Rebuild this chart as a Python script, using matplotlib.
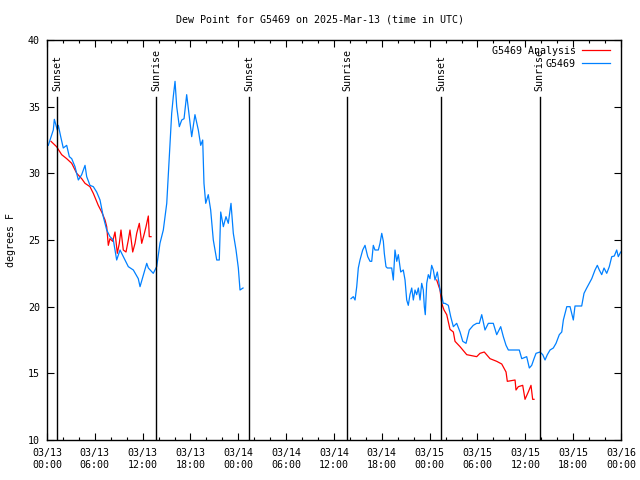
import matplotlib
matplotlib.use('Agg')
import matplotlib.pyplot as plt
import matplotlib.dates as mdates
import numpy as np
import pandas as pd

start = pd.Timestamp('2025-03-13 00:00')
end = pd.Timestamp('2025-03-16 00:00')

# hours after 03/13 00:00 UTC, dew point in F
obs_hours_1 = [0.16, 0.79, 0.92, 1.29, 1.42, 1.72, 2.04, 2.47, 2.80, 3.10, 3.51, 3.93, 4.35, 4.77,
               4.98, 5.39, 5.81, 6.23, 6.65, 7.06, 7.49, 7.90, 8.32, 8.74, 9.16, 9.78, 10.20, 10.83,
               11.45, 11.67, 12.51, 12.71, 13.33, 13.76, 14.17, 14.59, 15.02, 15.43, 15.64, 15.84,
               16.06, 16.27, 16.60, 16.90, 17.19, 17.52, 17.85, 18.15, 18.56, 18.98, 19.28, 19.53,
               19.69, 19.91, 20.23, 20.53, 20.86, 21.29, 21.61, 21.79, 22.12, 22.45, 22.74, 23.08,
               23.37, 23.71, 24.00, 24.21, 24.59]
obs_vals_1 = [32.1, 33.25, 34.05, 33.25, 33.6, 32.75, 31.9, 32.1, 31.25, 31.1, 30.5, 29.5, 29.9, 30.6,
              29.75, 29.1, 29.0, 28.6, 28.0, 26.75, 25.75, 25.25, 25.0, 23.5, 24.25, 23.5, 23.0, 22.75,
              22.1, 21.5, 23.25, 22.9, 22.5, 23.0, 24.75, 25.75, 27.75, 32.25, 34.5, 35.75,
              36.9, 35.0, 33.5, 34.0, 34.1, 35.9, 34.25, 32.75, 34.4, 33.25, 32.1, 32.5,
              29.25, 27.75, 28.4, 27.25, 25.0, 23.5, 23.5, 27.1, 26.0, 26.75, 26.25, 27.75,
              25.5, 24.25, 22.9, 21.25, 21.4]

obs_hours_2 = [38.13, 38.42, 38.64, 38.85, 39.05, 39.26, 39.60, 39.89, 40.23, 40.52, 40.73, 40.93,
               41.14, 41.56, 41.77, 41.99, 42.19, 42.31, 42.52, 42.69, 43.24, 43.44, 43.65, 43.87,
               44.07, 44.37, 44.69, 44.91, 45.12, 45.32, 45.53, 45.75, 45.95, 46.16, 46.37, 46.58,
               46.79, 47.00, 47.20, 47.33, 47.45, 47.63, 47.83, 48.04, 48.25, 48.46, 48.67, 48.96,
               49.17, 49.30, 49.51, 49.71, 49.92, 50.34, 50.64, 50.97, 51.39, 51.81, 52.15, 52.56,
               52.97, 53.47, 53.90, 54.23, 54.53, 54.94, 55.36, 55.98, 56.41, 56.91, 57.24, 57.58,
               57.87, 59.24, 59.55, 60.17, 60.50, 60.80, 61.09, 61.34, 61.84, 62.18, 62.47, 62.76,
               63.10, 63.51, 63.85, 64.26, 64.57, 64.77, 65.20, 65.61, 66.02, 66.23, 67.07, 67.36,
               67.70, 68.02, 68.33, 68.74, 69.03, 69.28, 69.58, 69.87, 70.21, 70.53, 70.84, 71.16,
               71.46, 71.66, 71.96]
obs_vals_2 = [20.6, 20.75, 20.5, 21.5, 22.9, 23.5, 24.25, 24.6, 23.75, 23.4, 23.4, 24.6,
              24.25, 24.25, 24.75, 25.5, 24.9, 24.0, 23.0, 22.9, 22.9, 22.0, 24.25, 23.4,
              23.9, 22.6, 22.75, 22.0, 20.5, 20.1, 20.9, 21.4, 20.5, 21.25, 20.9, 21.4,
              20.5, 21.75, 21.25, 20.0, 19.4, 21.75, 22.4, 22.1, 23.1, 22.75, 22.0, 22.6,
              21.75, 21.25, 20.8, 20.25, 20.25, 20.1, 19.25, 18.5, 18.75, 18.1, 17.4, 17.25,
              18.25, 18.6, 18.75, 18.75, 19.4, 18.25, 18.75, 18.75, 17.9, 18.5, 17.75, 17.1,
              16.75, 16.75, 16.1, 16.25, 15.4, 15.6, 16.1, 16.5, 16.6, 16.4, 16.0, 16.4,
              16.75, 16.9, 17.25, 17.9, 18.1, 19.0, 20.0, 20.0, 19.0, 20.05, 20.05, 21.0,
              21.4, 21.75, 22.1, 22.75, 23.1, 22.75, 22.4, 22.9, 22.5, 23.0, 23.75, 23.8,
              24.25, 23.75, 24.1]

ana_hours_1 = [0.5, 1.2, 1.84, 2.47, 3.10, 3.73, 4.35, 4.77, 5.39, 5.81, 6.43, 6.86, 7.28, 7.49,
               7.69, 7.90, 8.24, 8.53, 8.82, 9.07, 9.28, 9.57, 9.91, 10.20, 10.41, 10.75, 11.04,
               11.25, 11.58, 11.88, 12.17, 12.42, 12.71, 12.83, 13.05]
ana_vals_1 = [32.4, 32.0, 31.4, 31.1, 30.75, 30.0, 29.6, 29.25, 29.0, 28.5, 27.6, 27.1, 26.5, 26.0,
              24.6, 25.1, 24.9, 25.6, 24.0, 24.75, 25.75, 24.25, 24.1, 25.0, 25.75, 24.1, 24.75,
              25.5, 26.25, 24.75, 25.4, 26.0, 26.8, 25.25, 25.25]

ana_hours_2 = [48.88, 49.30, 49.51, 49.80, 50.14, 50.55, 50.97, 51.18, 51.81, 52.65, 53.90, 54.31,
               54.85, 55.57, 56.41, 57.04, 57.58, 57.74, 58.71, 58.83, 59.12, 59.67, 59.96, 60.37,
               60.71, 60.92, 61.09]
ana_vals_2 = [22.0, 21.25, 20.25, 19.75, 19.4, 18.3, 18.1, 17.4, 17.0, 16.4, 16.25, 16.5,
              16.6, 16.1, 15.9, 15.7, 15.1, 14.4, 14.5, 13.75, 14.0, 14.1, 13.05, 13.6,
              14.1, 13.05, 13.05]

sun_hours = [1.30, 13.70, 25.40, 37.65, 49.47, 61.78]
sun_labels = ['Sunset', 'Sunrise', 'Sunset', 'Sunrise', 'Sunset', 'Sunrise']

plt.rcParams['font.family'] = ['DejaVu Sans Mono']
plt.rcParams['font.size'] = 7.2


def to_time(hours):
    return start + pd.to_timedelta(hours, unit='h')


fig = plt.figure(figsize=(6.4, 4.8), dpi=100)
ax = fig.add_axes([47 / 640, 40 / 480, 574 / 640, 400 / 480])

# NaN between the segments so the gaps stay open
ana_t = list(to_time(ana_hours_1)) + [to_time([ana_hours_1[-1] + 1])[0]] + list(to_time(ana_hours_2))
ana_v = ana_vals_1 + [np.nan] + ana_vals_2
obs_t = list(to_time(obs_hours_1)) + [to_time([obs_hours_1[-1] + 1])[0]] + list(to_time(obs_hours_2))
obs_v = obs_vals_1 + [np.nan] + obs_vals_2

ax.plot(ana_t, ana_v, color='#ff0000', lw=0.9, label='G5469 Analysis')
ax.plot(obs_t, obs_v, color='#0080ff', lw=0.9, label='G5469')

for t, lab in zip(to_time(sun_hours), sun_labels):
    ax.plot([t, t], [10, 35.7], color='black', lw=1.0)
    ax.text(t, 36.15, lab, rotation=90, ha='center', va='bottom')

ax.set_xlim(start, end)
ax.set_ylim(10, 40)
ax.set_yticks(range(10, 41, 5))
ax.xaxis.set_major_locator(mdates.HourLocator(byhour=[0, 6, 12, 18]))
ax.xaxis.set_minor_locator(mdates.HourLocator(interval=2))
ax.xaxis.set_major_formatter(mdates.DateFormatter('%m/%d\n%H:%M'))
ax.tick_params(which='both', direction='in', top=True, right=True, width=0.8, color='black')
ax.tick_params(which='major', length=5)
ax.tick_params(which='minor', length=2.5)
ax.tick_params(axis='x', pad=6)
ax.tick_params(axis='y', pad=5)
for s in ax.spines.values():
    s.set_linewidth(1.0)

ax.set_ylabel('degrees F', labelpad=9)
fig.text(0.5, 1 - 19 / 480, 'Dew Point for G5469 on 2025-Mar-13 (time in UTC)', ha='center', va='center')

ax.legend(loc='upper right', bbox_to_anchor=(1, 1 + 5 / 400), frameon=False, markerfirst=False,
          handlelength=2.8, borderaxespad=0.9, labelspacing=0.28, handletextpad=0.6, borderpad=0.2)

fig.savefig('out.png', dpi=100)
